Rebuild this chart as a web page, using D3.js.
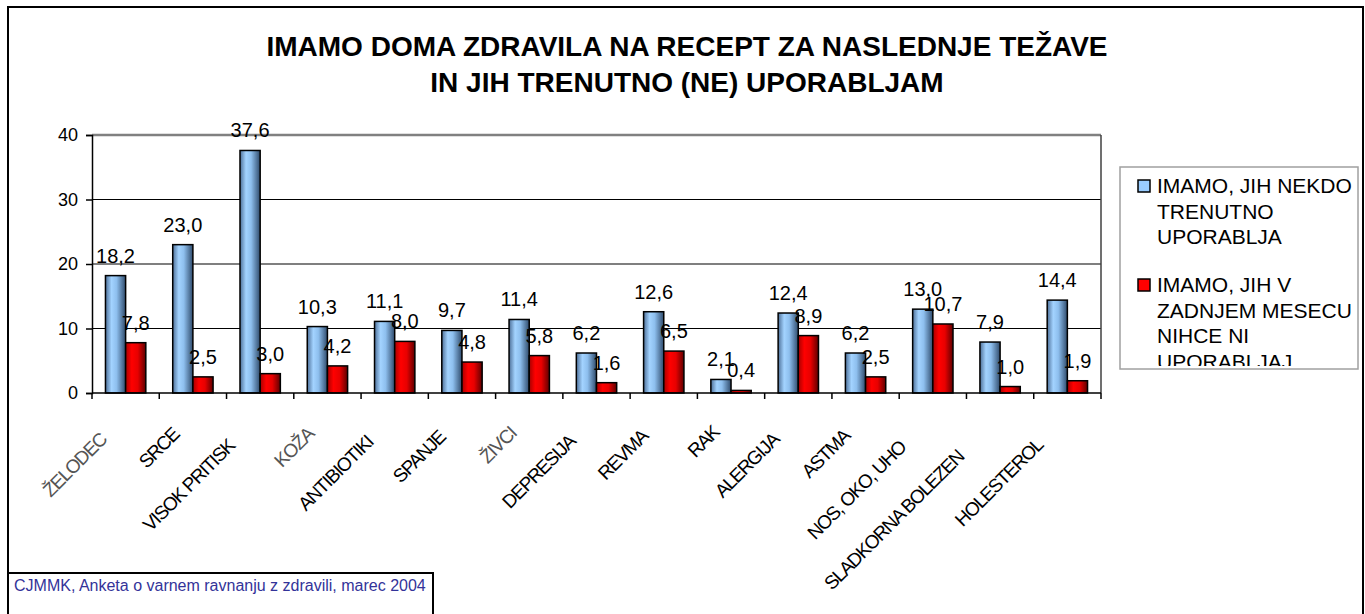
<!DOCTYPE html>
<html>
<head>
<meta charset="utf-8">
<script src="https://cdn.jsdelivr.net/npm/d3@7/dist/d3.min.js"></script>
<style>
  body { margin: 0; background: #fff; }
  svg { display: block; font-family: "Liberation Sans", Arial, sans-serif; }
</style>
</head>
<body>
<div id="chart"></div>
<script>
const categories = ["ŽELODEC", "SRCE", "VISOK PRITISK", "KOŽA", "ANTIBIOTIKI", "SPANJE", "ŽIVCI",
  "DEPRESIJA", "REVMA", "RAK", "ALERGIJA", "ASTMA", "NOS, OKO, UHO", "SLADKORNA BOLEZEN", "HOLESTEROL"];
const fadedLabels = ["ŽELODEC", "KOŽA", "ŽIVCI"];
const inUse = [18.2, 23.0, 37.6, 10.3, 11.1, 9.7, 11.4, 6.2, 12.6, 2.1, 12.4, 6.2, 13.0, 7.9, 14.4];
const notUsed = [7.8, 2.5, 3.0, 4.2, 8.0, 4.8, 5.8, 1.6, 6.5, 0.4, 8.9, 2.5, 10.7, 1.0, 1.9];
const seriesNames = [
  ["IMAMO, JIH NEKDO", "TRENUTNO", "UPORABLJA"],
  ["IMAMO, JIH V", "ZADNJEM MESECU", "NIHCE NI", "UPORABLJAJ"]
];
const yTicks = [0, 10, 20, 30, 40];
const titleLines = ["IMAMO DOMA ZDRAVILA NA RECEPT ZA NASLEDNJE TEŽAVE", "IN JIH TRENUTNO (NE) UPORABLJAM"];
const sourceNote = "CJMMK, Anketa o varnem ravnanju z zdravili, marec 2004";

const width = 1365;
const height = 614;
const plot = { left: 92, right: 1101, top: 135, bottom: 393 };

const svg = d3.select("#chart").append("svg")
  .attr("width", width)
  .attr("height", height);

const defs = svg.append("defs");

function barGradient(id, stops) {
  const g = defs.append("linearGradient").attr("id", id)
    .attr("x1", "0%").attr("x2", "100%").attr("y1", "0%").attr("y2", "0%");
  stops.forEach(([o, c]) => g.append("stop").attr("offset", o).attr("stop-color", c));
}
barGradient("grad-blue", [["0%", "#4d6f98"], ["30%", "#a3d3ff"], ["55%", "#8ebfee"], ["100%", "#2f4b6c"]]);
barGradient("grad-red", [["0%", "#a80000"], ["30%", "#ff0000"], ["60%", "#e80000"], ["100%", "#5e0000"]]);

defs.append("clipPath").attr("id", "legend-clip")
  .append("rect").attr("x", 1120).attr("y", 167).attr("width", 238).attr("height", 199);

// chart frame
svg.append("rect")
  .attr("x", 8).attr("y", 7).attr("width", 1355).attr("height", 620)
  .attr("fill", "#fff").attr("stroke", "#000").attr("stroke-width", 2);

// title
svg.append("g").selectAll("text")
  .data(titleLines)
  .join("text")
  .attr("x", 687)
  .attr("y", (d, i) => 56 + i * 36)
  .attr("text-anchor", "middle")
  .attr("font-size", 28)
  .attr("font-weight", "bold")
  .text((d) => d);

const x = d3.scaleBand().domain(categories).range([plot.left, plot.right]).padding(0);
const x1 = d3.scaleBand().domain([0, 1]).range([x.bandwidth() * 0.2, x.bandwidth() * 0.8]).padding(0);
const y = d3.scaleLinear().domain([0, 40]).range([plot.bottom, plot.top]);

// gridlines
svg.append("g").selectAll("line")
  .data(yTicks.filter((t) => t > 0))
  .join("line")
  .attr("x1", plot.left).attr("x2", plot.right)
  .attr("y1", (d) => y(d)).attr("y2", (d) => y(d))
  .attr("stroke", (d) => d === 40 ? "#808080" : "#000")
  .attr("stroke-width", (d) => d === 40 ? 2.5 : 1.2);

// right edge of plot area
svg.append("line")
  .attr("x1", plot.right).attr("x2", plot.right)
  .attr("y1", plot.top).attr("y2", plot.bottom)
  .attr("stroke", "#404040").attr("stroke-width", 1.5);

// y axis
const yAxis = svg.append("g")
  .attr("transform", `translate(${plot.left},0)`)
  .call(d3.axisLeft(y).tickValues(yTicks).tickSize(6).tickPadding(8).tickFormat(d3.format("d")));
yAxis.select(".domain").attr("stroke", "#000").attr("stroke-width", 1.5);
yAxis.selectAll(".tick line").attr("stroke", "#000").attr("stroke-width", 1.5);
yAxis.selectAll("text").attr("font-size", 18).attr("fill", "#000")
  .attr("font-family", "'Liberation Sans', Arial, sans-serif");

// bars
const rows = categories.map((c, i) => ({ cat: c, values: [inUse[i], notUsed[i]] }));
const groups = svg.append("g").selectAll("g")
  .data(rows)
  .join("g")
  .attr("transform", (d) => `translate(${x(d.cat)},0)`);

groups.selectAll("rect")
  .data((d) => d.values.map((v, s) => ({ v, s })))
  .join("rect")
  .attr("x", (d) => x1(d.s))
  .attr("width", x1.bandwidth())
  .attr("y", (d) => y(d.v))
  .attr("height", (d) => y(0) - y(d.v))
  .attr("fill", (d) => d.s === 0 ? "url(#grad-blue)" : "url(#grad-red)")
  .attr("stroke", "#000")
  .attr("stroke-width", 1.5);

// x axis line and category ticks
svg.append("line")
  .attr("x1", plot.left).attr("x2", plot.right)
  .attr("y1", plot.bottom).attr("y2", plot.bottom)
  .attr("stroke", "#000").attr("stroke-width", 1.5);

svg.append("g").selectAll("line")
  .data(categories.concat([null]))
  .join("line")
  .attr("x1", (d) => d === null ? plot.right : x(d))
  .attr("x2", (d) => d === null ? plot.right : x(d))
  .attr("y1", plot.bottom).attr("y2", plot.bottom + 6)
  .attr("stroke", "#000").attr("stroke-width", 1.5);

// value labels
const fmt = (v) => v.toFixed(1).replace(".", ",");
groups.selectAll("text")
  .data((d) => d.values.map((v, s) => ({ v, s })))
  .join("text")
  .attr("x", (d) => x1(d.s) + x1.bandwidth() / 2)
  .attr("y", (d) => y(d.v) - 13)
  .attr("text-anchor", "middle")
  .attr("font-size", 20)
  .attr("fill", "#000")
  .text((d) => fmt(d.v));

// category labels, rotated
const catLabels = svg.append("g").selectAll("text")
  .data(categories)
  .join("text")
  .attr("text-anchor", "end")
  .attr("font-size", 19)
  .attr("letter-spacing", -1.3)
  .attr("fill", (d) => fadedLabels.includes(d) ? "#555" : "#000")
  .text((d) => d);

catLabels.each(function (d) {
  const len = this.getComputedTextLength();
  const cx = x(d) + x.bandwidth() / 2;
  const ex = cx - 5 - 0.16 * len;
  const ey = 428 + 0.16 * len;
  d3.select(this).attr("transform", `translate(${ex},${ey}) rotate(-45)`);
});

// legend
svg.append("rect")
  .attr("x", 1120).attr("y", 167).attr("width", 238).attr("height", 202)
  .attr("fill", "#fff").attr("stroke", "#a0a0a0").attr("stroke-width", 1.5);

const legend = svg.append("g").attr("clip-path", "url(#legend-clip)");
const legendTop = [193, 292];
seriesNames.forEach((lines, s) => {
  legend.append("rect")
    .attr("x", 1138).attr("y", legendTop[s] - 13)
    .attr("width", 12).attr("height", 12)
    .attr("fill", s === 0 ? "#99ccff" : "#ff0000")
    .attr("stroke", "#000").attr("stroke-width", 1.5);
  legend.append("g").selectAll("text")
    .data(lines)
    .join("text")
    .attr("x", 1157)
    .attr("y", (d, i) => legendTop[s] + i * 25.7)
    .attr("font-size", 21)
    .attr("fill", "#000")
    .text((d) => d);
});

// source note box
svg.append("rect")
  .attr("x", 8).attr("y", 573).attr("width", 425).attr("height", 60)
  .attr("fill", "#fff").attr("stroke", "#000").attr("stroke-width", 2);
svg.append("text")
  .attr("x", 14).attr("y", 591)
  .attr("font-size", 16)
  .attr("fill", "#333399")
  .text(sourceNote);
</script>
</body>
</html>
